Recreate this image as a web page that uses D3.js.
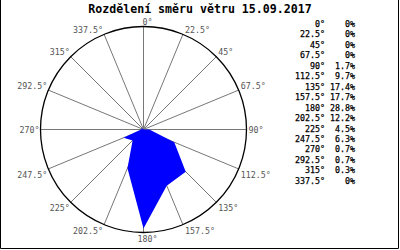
<!DOCTYPE html>
<html>
<head>
<meta charset="utf-8">
<script src="https://cdnjs.cloudflare.com/ajax/libs/d3/7.8.5/d3.min.js"></script>
<style>
    html, body { margin: 0; padding: 0; background: #fff; }
    svg { display: block; }
</style>
</head>
<body>
<div id="chart"></div>
<script>
var title = 'Rozdělení směru větru 15.09.2017';
var directions = [0, 22.5, 45, 67.5, 90, 112.5, 135, 157.5, 180, 202.5, 225, 247.5, 270, 292.5, 315, 337.5];
var values = [0, 0, 0, 0, 1.7, 9.7, 17.4, 17.7, 28.8, 12.2, 4.5, 6.3, 0.7, 0.7, 0.3, 0];
var scaleMax = 30;

var width = 400, height = 250;
var cx = 143.5, cy = 129.5, radius = 103;
var font = '"DejaVu Sans Mono", monospace';

var svg = d3.select('#chart').append('svg')
    .attr('width', width)
    .attr('height', height);

// frame (top edge sits outside the picture)
svg.append('path')
    .attr('d', 'M0.5,0V248.5H398.5V0')
    .attr('fill', 'none')
    .attr('stroke', '#000')
    .attr('stroke-width', 1);

svg.append('text')
    .attr('x', 200)
    .attr('y', 12.7)
    .attr('text-anchor', 'middle')
    .style('font-family', font)
    .style('font-weight', 'bold')
    .style('font-size', '11.6px')
    .text(title);

var r = d3.scaleLinear().domain([0, scaleMax]).range([0, radius]);
var rad = function (deg) { return deg * Math.PI / 180; };

var g = svg.append('g').attr('transform', 'translate(' + cx + ',' + cy + ')');

g.selectAll('line.spoke')
    .data(directions)
    .enter().append('line')
    .attr('class', 'spoke')
    .attr('x1', 0).attr('y1', 0)
    .attr('x2', function (d) { return radius * Math.sin(rad(d)); })
    .attr('y2', function (d) { return -radius * Math.cos(rad(d)); })
    .attr('stroke', '#777')
    .attr('stroke-width', 1);

var rose = d3.lineRadial()
    .angle(function (d) { return rad(d[0]); })
    .radius(function (d) { return r(d[1]); })
    .curve(d3.curveLinearClosed);

g.append('path')
    .datum(d3.zip(directions, values))
    .attr('d', rose)
    .attr('fill', '#0000ff')
    .attr('stroke', 'none');

g.append('circle')
    .attr('r', radius)
    .attr('fill', 'none')
    .attr('stroke', '#000')
    .attr('stroke-width', 1.3);

g.selectAll('text.dirlabel')
    .data(directions)
    .enter().append('text')
    .attr('class', 'dirlabel')
    .attr('x', function (d) {
        var s = Math.sin(rad(d));
        var x = radius * s;
        if (Math.abs(s) < 1e-6) return x + 4;
        return s > 0 ? x + 2 : x - 1;
    })
    .attr('y', function (d) {
        var c = Math.cos(rad(d));
        var y = -radius * c;
        if (Math.abs(c) < 1e-6) return y + 3;
        return c > 0 ? y - 1.5 : y + 9;
    })
    .attr('text-anchor', function (d) {
        var s = Math.sin(rad(d));
        if (Math.abs(s) < 1e-6) return 'middle';
        return s > 0 ? 'start' : 'end';
    })
    .style('font-family', font)
    .style('font-size', '8.3px')
    .style('fill', '#555')
    .text(function (d) { return d + '°'; });

// table of values on the right
var rowH = 10.45;
var table = svg.append('g').attr('class', 'table');

table.selectAll('text.tdir')
    .data(directions)
    .enter().append('text')
    .attr('class', 'tdir')
    .attr('x', 325)
    .attr('y', function (d, i) { return 27 + i * rowH; })
    .attr('text-anchor', 'end')
    .style('font-family', font)
    .style('font-size', '8.3px')
    .style('stroke', '#000')
    .style('stroke-width', 0.25)
    .text(function (d) { return d + '°'; });

table.selectAll('text.tval')
    .data(values)
    .enter().append('text')
    .attr('class', 'tval')
    .attr('x', 355)
    .attr('y', function (d, i) { return 27 + i * rowH; })
    .attr('text-anchor', 'end')
    .style('font-family', font)
    .style('font-size', '8.3px')
    .style('stroke', '#000')
    .style('stroke-width', 0.25)
    .text(function (d) { return d + '%'; });
</script>
</body>
</html>
